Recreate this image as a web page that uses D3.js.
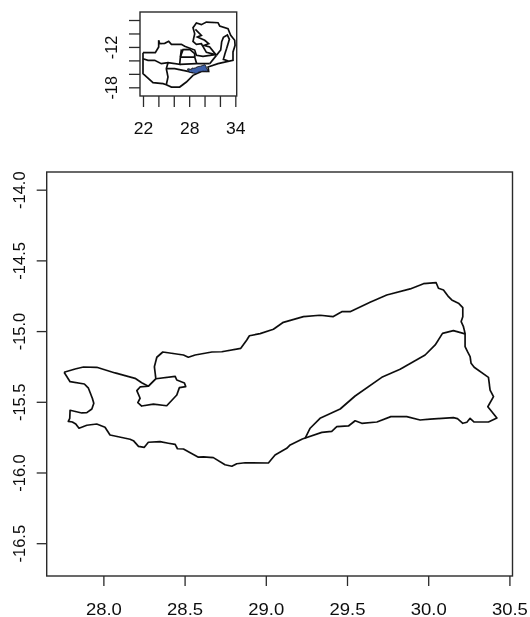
<!DOCTYPE html>
<html>
<head>
<meta charset="utf-8">
<script src="https://cdn.jsdelivr.net/npm/d3@7"></script>
<style>
  html, body { margin: 0; padding: 0; background: #fff; }
  svg { display: block; }
  text { font-family: "Liberation Sans", Arial, sans-serif; fill: #111; }
</style>
</head>
<body>
<svg id="map" width="530" height="617"></svg>
<script>
// district outline, lon / lat
var outerRing = [[27.758,-15.291],[27.826,-15.268],[27.877,-15.254],[27.959,-15.256],[28.072,-15.296],[28.195,-15.334],
  [28.236,-15.365],[28.277,-15.390],[28.323,-15.337],[28.314,-15.252],[28.329,-15.185],[28.366,-15.148],[28.493,-15.169],
  [28.523,-15.185],[28.565,-15.169],[28.668,-15.148],[28.729,-15.146],[28.846,-15.122],[28.883,-15.063],[28.899,-15.033],
  [28.965,-15.018],[29.047,-14.987],[29.108,-14.938],[29.232,-14.898],[29.334,-14.888],[29.413,-14.898],[29.468,-14.863],
  [29.519,-14.863],[29.642,-14.796],[29.745,-14.745],[29.889,-14.702],[29.971,-14.665],[30.049,-14.658],[30.063,-14.697],[30.094,-14.709],
  [30.125,-14.757],[30.145,-14.780],[30.186,-14.803],[30.213,-14.834],[30.213,-14.898],[30.203,-14.933],[30.217,-14.969],[30.227,-15.016],[30.227,-15.110],
  [30.242,-15.146],[30.258,-15.181],[30.264,-15.228],[30.283,-15.256],
  [30.371,-15.327],[30.381,-15.417],[30.402,-15.464],[30.367,-15.535],[30.392,-15.570],[30.423,-15.615],[30.371,-15.643],
  [30.283,-15.643],[30.258,-15.617],[30.238,-15.645],[30.213,-15.652],[30.180,-15.619],[30.155,-15.612],[30.012,-15.622],
  [29.950,-15.629],[29.868,-15.605],[29.770,-15.605],[29.684,-15.643],[29.591,-15.652],[29.550,-15.634],[29.509,-15.671],
  [29.437,-15.676],[29.406,-15.709],[29.345,-15.716],[29.225,-15.763],[29.150,-15.805],[29.129,-15.829],[29.057,-15.876],
  [29.016,-15.933],[28.873,-15.931],[28.821,-15.938],[28.791,-15.956],[28.749,-15.945],[28.677,-15.895],[28.616,-15.890],
  [28.585,-15.892],[28.493,-15.834],[28.456,-15.832],[28.442,-15.801],[28.400,-15.793],[28.349,-15.782],[28.277,-15.786],
  [28.252,-15.822],[28.216,-15.815],[28.185,-15.775],[28.164,-15.765],[28.092,-15.747],[28.041,-15.735],[28.010,-15.680],
  [27.959,-15.657],[27.898,-15.666],[27.850,-15.687],[27.830,-15.657],[27.809,-15.643],[27.784,-15.638],[27.793,-15.617],
  [27.795,-15.560],[27.867,-15.579],[27.898,-15.577],[27.929,-15.551],[27.941,-15.511],[27.932,-15.475],[27.908,-15.404],
  [27.883,-15.374],[27.795,-15.358],[27.758,-15.291]];

var islandRing = [[28.277,-15.390],[28.323,-15.337],[28.442,-15.320],[28.452,-15.346],[28.499,-15.367],[28.507,-15.393],
  [28.468,-15.400],[28.452,-15.452],[28.390,-15.528],[28.308,-15.516],[28.236,-15.530],[28.212,-15.506],[28.226,-15.475],
  [28.206,-15.421],[28.226,-15.395],[28.277,-15.390]];

var innerLine = [[29.242,-15.758],[29.273,-15.687],[29.334,-15.617],[29.458,-15.551],[29.550,-15.459],[29.714,-15.327],
  [29.827,-15.270],[29.981,-15.169],[30.043,-15.098],[30.088,-15.016],[30.155,-14.997],[30.227,-15.020]];

// country outline for the small map
var insetBorder = [[22.00,-12.85],[22.00,-15.97],[23.30,-17.31],[24.60,-17.46],[25.03,-17.61],[25.69,-17.96],[26.77,-17.96],
  [27.64,-17.21],[28.50,-16.22],[29.59,-15.63],[30.54,-15.63],[30.45,-14.98],[31.75,-14.49],[33.05,-14.14],[33.70,-13.99],
  [33.70,-12.75],[33.97,-11.76],[33.92,-11.02],[33.40,-10.28],[33.05,-9.29],[31.97,-8.89],[31.75,-8.40],[30.24,-8.30],
  [29.59,-8.69],[28.94,-8.44],[28.50,-9.14],[28.72,-10.03],[28.50,-11.17],[28.94,-11.61],[29.59,-11.52],[30.24,-12.80],
  [31.41,-13.15],[29.80,-13.40],[28.94,-13.25],[28.72,-12.46],[27.42,-11.91],[26.99,-11.61],[25.69,-11.61],[25.34,-11.17],
  [24.82,-11.47],[24.17,-11.52],[24.04,-11.02],[24.04,-12.01],[23.60,-12.85],[22.00,-12.85]];

var insetLines = [
  [[22.00,-13.75],[22.65,-13.99],[23.52,-13.99],[24.38,-14.49],[25.25,-14.34],[26.77,-14.59],[26.86,-13.50],[26.99,-12.36]],
  [[25.25,-14.34],[25.03,-15.23],[25.25,-16.47],[25.03,-17.61]],
  [[25.03,-15.23],[26.12,-15.23],[27.85,-15.63],[28.50,-15.83]],
  [[26.86,-13.50],[28.72,-13.50],[28.98,-14.49]],
  [[26.77,-14.59],[28.98,-14.49],[30.67,-14.49]],
  [[26.86,-13.50],[27.20,-12.41],[28.07,-12.36],[28.72,-13.00],[28.72,-13.50]],
  [[30.67,-14.49],[31.54,-13.25]],
  [[28.81,-9.39],[29.59,-10.28],[29.07,-10.53],[30.02,-11.02],[30.54,-11.52],[29.93,-11.76],[30.67,-12.01],[31.54,-13.25]],
  [[31.54,-13.25],[32.10,-12.46],[32.23,-11.22],[32.45,-10.58],[32.97,-10.23],[33.23,-10.87],[32.88,-12.21],[32.67,-12.95],[32.45,-13.85],[33.10,-14.09]]
];

var mainXTicks = [28, 28.5, 29, 29.5, 30, 30.5];
var mainYTicks = [-14, -14.5, -15, -15.5, -16, -16.5];
var insetXTicks = [22, 24, 26, 28, 30, 32, 34];
var insetYTicks = [-8, -10, -12, -14, -16, -18];
var insetXLabels = [22, 28, 34];
var insetYLabels = [-12, -18];

var svg = d3.select("#map");
var axisColor = "#2a2a2a";

// the reference is a resampled png, a touch of blur gets the same soft edges
svg.append("defs").append("filter")
    .attr("id", "soft")
  .append("feGaussianBlur")
    .attr("stdDeviation", 0.4);

// big panel
var x = d3.scaleLinear().domain([27.651, 30.519]).range([46.7, 512.5]);
var y = d3.scaleLinear().domain([-13.875, -16.732]).range([172, 576]);

// small panel
var xInset = d3.scaleLinear().domain([21.61, 34.18]).range([140, 236.7]);
var yInset = d3.scaleLinear().domain([-6.81, -19.29]).range([12, 96]);

function drawAxes(xs, ys, xTicks, yTicks, xFmt, yFmt, opts) {
  var box = svg.append("g").attr("filter", "url(#soft)");
  var bottom = ys.range()[1], left = xs.range()[0];

  var xAxis = box.append("g")
      .attr("transform", "translate(0," + bottom + ")")
      .call(d3.axisBottom(xs).tickValues(xTicks).tickSizeOuter(0).tickSize(opts.tick).tickFormat(xFmt));
  var yAxis = box.append("g")
      .attr("transform", "translate(" + left + ",0)")
      .call(d3.axisLeft(ys).tickValues(yTicks).tickSizeOuter(0).tickSize(opts.tick).tickFormat(yFmt));

  box.selectAll(".domain").remove();
  box.selectAll(".tick line").style("stroke", axisColor).style("stroke-width", 1.3);

  xAxis.selectAll("text")
      .attr("y", null).attr("dy", null)
      .attr("transform", "translate(0," + opts.xBase + ")")
      .attr("text-anchor", "middle")
      .style("font-size", opts.font + "px")
      .attr("textLength", function() { return this.textContent ? opts.xLen : null; })
      .attr("lengthAdjust", "spacingAndGlyphs");

  yAxis.selectAll("text")
      .attr("x", null).attr("dy", null)
      .attr("transform", "translate(" + opts.yBase + ",0) rotate(-90)")
      .attr("text-anchor", "middle")
      .style("font-size", opts.font + "px")
      .attr("textLength", function() { return this.textContent ? opts.yLen : null; })
      .attr("lengthAdjust", "spacingAndGlyphs");

  box.append("rect")
      .attr("x", left).attr("y", ys.range()[0])
      .attr("width", xs.range()[1] - left)
      .attr("height", bottom - ys.range()[0])
      .style("fill", "none")
      .style("stroke", axisColor)
      .style("stroke-width", 1.4);
}

var path = d3.line().x(function(d) { return x(d[0]); }).y(function(d) { return y(d[1]); });
var pathInset = d3.line().x(function(d) { return xInset(d[0]); }).y(function(d) { return yInset(d[1]); });

// small map first, blue district on top
var inset = svg.append("g").attr("filter", "url(#soft)")
    .style("fill", "none").style("stroke", "#111").style("stroke-width", 1.7);
inset.append("path").attr("d", pathInset(insetBorder));
inset.selectAll(".inner")
    .data(insetLines).enter().append("path")
    .attr("class", "inner")
    .attr("d", pathInset);
inset.append("path")
    .attr("d", pathInset(outerRing))
    .style("fill", "#3d5fa8")
    .style("stroke-width", 1);

drawAxes(xInset, yInset, insetXTicks, insetYTicks,
  function(d) { return insetXLabels.indexOf(d) >= 0 ? d : ""; },
  function(d) { return insetYLabels.indexOf(d) >= 0 ? d : ""; },
  { tick: 11, font: 16.5, xBase: 38, yBase: -23.5, xLen: 19.5, yLen: 23.5 });

// big map
var main = svg.append("g").attr("filter", "url(#soft)")
    .style("fill", "none").style("stroke", "#111").style("stroke-width", 1.7)
    .style("stroke-linejoin", "round");
main.append("path").attr("d", path(outerRing));
main.append("path").attr("d", path(islandRing));
main.append("path").attr("d", path(innerLine));

drawAxes(x, y, mainXTicks, mainYTicks, function(d) { return d.toFixed(1); }, function(d) { return d.toFixed(1); },
  { tick: 10, font: 16.5, xBase: 39, yBase: -21.7, xLen: 36, yLen: 37.5 });
</script>
</body>
</html>
